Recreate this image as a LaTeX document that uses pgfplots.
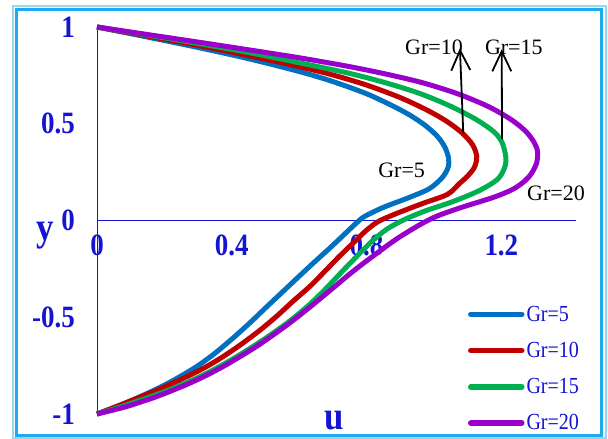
\documentclass[border=0pt]{standalone}
\usepackage{fontspec}
\setmainfont{Liberation Serif}
\newfontfamily\narrowserif{Liberation Serif}[FakeStretch=0.87]
\usepackage{pgfplots}
\pgfplotsset{compat=1.18}
\usetikzlibrary{arrows.meta}

\definecolor{grblue}{RGB}{0,112,192}
\definecolor{grred}{RGB}{192,0,0}
\definecolor{grgreen}{RGB}{0,176,80}
\definecolor{grpurple}{RGB}{153,0,204}
\definecolor{inkblue}{RGB}{20,20,210}
\definecolor{framelight}{RGB}{150,215,248}
\definecolor{framedark}{RGB}{30,170,238}

\begin{document}
\begin{tikzpicture}
\path[use as bounding box] (0pt,0pt) rectangle (608pt,439pt);
\fill[white] (0pt,0pt) rectangle (608pt,439pt);
% double frame round the figure
\draw[framelight, line width=2pt] (13pt,0.5pt) rectangle (605.5pt,433pt);
\draw[framedark, line width=2.5pt] (16.5pt,3.5pt) rectangle (601.5pt,429.5pt);

\begin{axis}[
  at={(97pt,25pt)}, anchor=south west,
  scale only axis, width=478.5pt, height=387pt,
  xmin=0, xmax=1.42, ymin=-1, ymax=1,
  axis lines=middle,
  axis line style={-, draw=inkblue, line width=1pt},
  clip=false,
  xtick={0,0.4,0.8,1.2}, xticklabels={0,0.4,0.8,1.2},
  ytick={-1,-0.5,0,0.5,1}, yticklabels={-1,-0.5,0,0.5,1},
  hide obscured x ticks=false, hide obscured y ticks=false,
  major tick length=0pt, tick style={draw=none},
  every tick label/.append style={font=\narrowserif\bfseries\fontsize{31}{31}\selectfont, text=inkblue},
  xticklabel style={anchor=center, yshift=-25pt},
  yticklabel style={anchor=east, inner sep=0pt, xshift=-22pt},
  xlabel={u}, ylabel={y},
  xlabel style={at={(axis description cs:0.495,-0.018)}, anchor=center,
    font=\narrowserif\bfseries\fontsize{40}{40}\selectfont, text=inkblue},
  ylabel style={at={(axis description cs:-0.108,0.462)}, anchor=center, rotate=0,
    font=\narrowserif\bfseries\fontsize{40}{40}\selectfont, text=inkblue},
  legend style={draw=none, fill=none, text=inkblue,
    font=\narrowserif\fontsize{23}{23}\selectfont,
    at={(axis description cs:0.775,0.285)}, anchor=north west,
    row sep=15.5pt, inner sep=0pt},
  legend cell align=left,
  legend image code/.code={\draw[#1, line width=5.5pt, line cap=round] (0pt,0pt) -- (51pt,0pt);},
]

% Gr = 5
\addplot[grblue, line width=5pt, smooth] coordinates {
(0,1) (0.15,0.948) (0.30,0.894) (0.45,0.836) (0.60,0.77) (0.70,0.718)
(0.80,0.655) (0.88,0.59) (0.93,0.543) (0.975,0.49) (1.01,0.435)
(1.032,0.38) (1.043,0.325) (1.043,0.28) (1.034,0.245) (1.02,0.213)
(0.985,0.163) (0.925,0.118) (0.85,0.068) (0.795,0.022) (0.775,-0.005)
(0.75,-0.045) (0.72,-0.095) (0.685,-0.152) (0.645,-0.215) (0.60,-0.288)
(0.55,-0.37) (0.50,-0.452) (0.45,-0.535) (0.40,-0.613) (0.35,-0.686)
(0.30,-0.75) (0.25,-0.803) (0.20,-0.851) (0.15,-0.893) (0.10,-0.932)
(0.05,-0.967) (0,-1)};
\addlegendentry{Gr=5}

% Gr = 10
\addplot[grred, line width=5pt, smooth] coordinates {
(0,1) (0.15,0.953) (0.30,0.905) (0.45,0.852) (0.60,0.795) (0.70,0.752)
(0.80,0.70) (0.90,0.635) (0.98,0.57) (1.04,0.51) (1.085,0.45)
(1.115,0.39) (1.127,0.33) (1.12,0.275) (1.10,0.23) (1.075,0.19)
(1.04,0.135) (0.968,0.089) (0.89,0.037) (0.835,-0.005) (0.80,-0.05)
(0.77,-0.10) (0.74,-0.15) (0.711,-0.20) (0.672,-0.27) (0.632,-0.34)
(0.58,-0.42) (0.533,-0.495) (0.485,-0.565) (0.434,-0.632) (0.38,-0.697)
(0.325,-0.755) (0.275,-0.80) (0.226,-0.84) (0.17,-0.883) (0.12,-0.918)
(0.06,-0.96) (0,-1)};
\addlegendentry{Gr=10}

% Gr = 15
\addplot[grgreen, line width=5pt, smooth] coordinates {
(0,1) (0.15,0.958) (0.30,0.915) (0.45,0.868) (0.60,0.815) (0.75,0.76)
(0.86,0.71) (0.96,0.655) (1.05,0.59) (1.127,0.52) (1.18,0.455)
(1.203,0.40) (1.213,0.33) (1.211,0.28) (1.19,0.215) (1.135,0.155)
(1.055,0.097) (0.975,0.05) (0.91,0.003) (0.86,-0.045) (0.82,-0.101)
(0.79,-0.152) (0.735,-0.25) (0.672,-0.365) (0.625,-0.443) (0.573,-0.518)
(0.52,-0.585) (0.47,-0.643) (0.415,-0.703) (0.36,-0.758) (0.305,-0.807)
(0.25,-0.85) (0.195,-0.888) (0.14,-0.922) (0.07,-0.963) (0,-1)};
\addlegendentry{Gr=15}

% Gr = 20
\addplot[grpurple, line width=5pt, smooth] coordinates {
(0,1) (0.15,0.961) (0.30,0.922) (0.45,0.882) (0.60,0.841) (0.75,0.795)
(0.87,0.752) (0.97,0.71) (1.07,0.655) (1.16,0.59) (1.226,0.525)
(1.27,0.465) (1.295,0.41) (1.307,0.36) (1.305,0.30) (1.29,0.245)
(1.27,0.205) (1.236,0.163) (1.19,0.128) (1.156,0.108) (1.077,0.065)
(1.008,0.022) (0.958,-0.022) (0.90,-0.083) (0.865,-0.125) (0.83,-0.17)
(0.79,-0.222) (0.751,-0.275) (0.712,-0.332) (0.672,-0.39) (0.623,-0.46)
(0.573,-0.528) (0.524,-0.59) (0.474,-0.65) (0.425,-0.703) (0.375,-0.754)
(0.326,-0.799) (0.276,-0.84) (0.227,-0.876) (0.177,-0.91) (0.13,-0.938)
(0.085,-0.963) (0.04,-0.983) (0,-1)};
\addlegendentry{Gr=20}

% curve labels and arrows
\node[font=\fontsize{22}{22}\selectfont] at (axis cs:1.0,0.897) {Gr=10};
\node[font=\fontsize{22}{22}\selectfont] at (axis cs:1.237,0.897) {Gr=15};
\node[font=\fontsize{22}{22}\selectfont] at (axis cs:0.904,0.261) {Gr=5};
\node[font=\fontsize{22}{22}\selectfont] at (axis cs:1.362,0.142) {Gr=20};
\draw[black, line width=1.8pt, -{Straight Barb[length=20pt,width=19pt]}]
  (axis cs:1.087,0.45) -- (axis cs:1.077,0.89);
\draw[black, line width=1.8pt, -{Straight Barb[length=20pt,width=19pt]}]
  (axis cs:1.202,0.42) -- (axis cs:1.201,0.885);
\end{axis}
\end{tikzpicture}
\end{document}
